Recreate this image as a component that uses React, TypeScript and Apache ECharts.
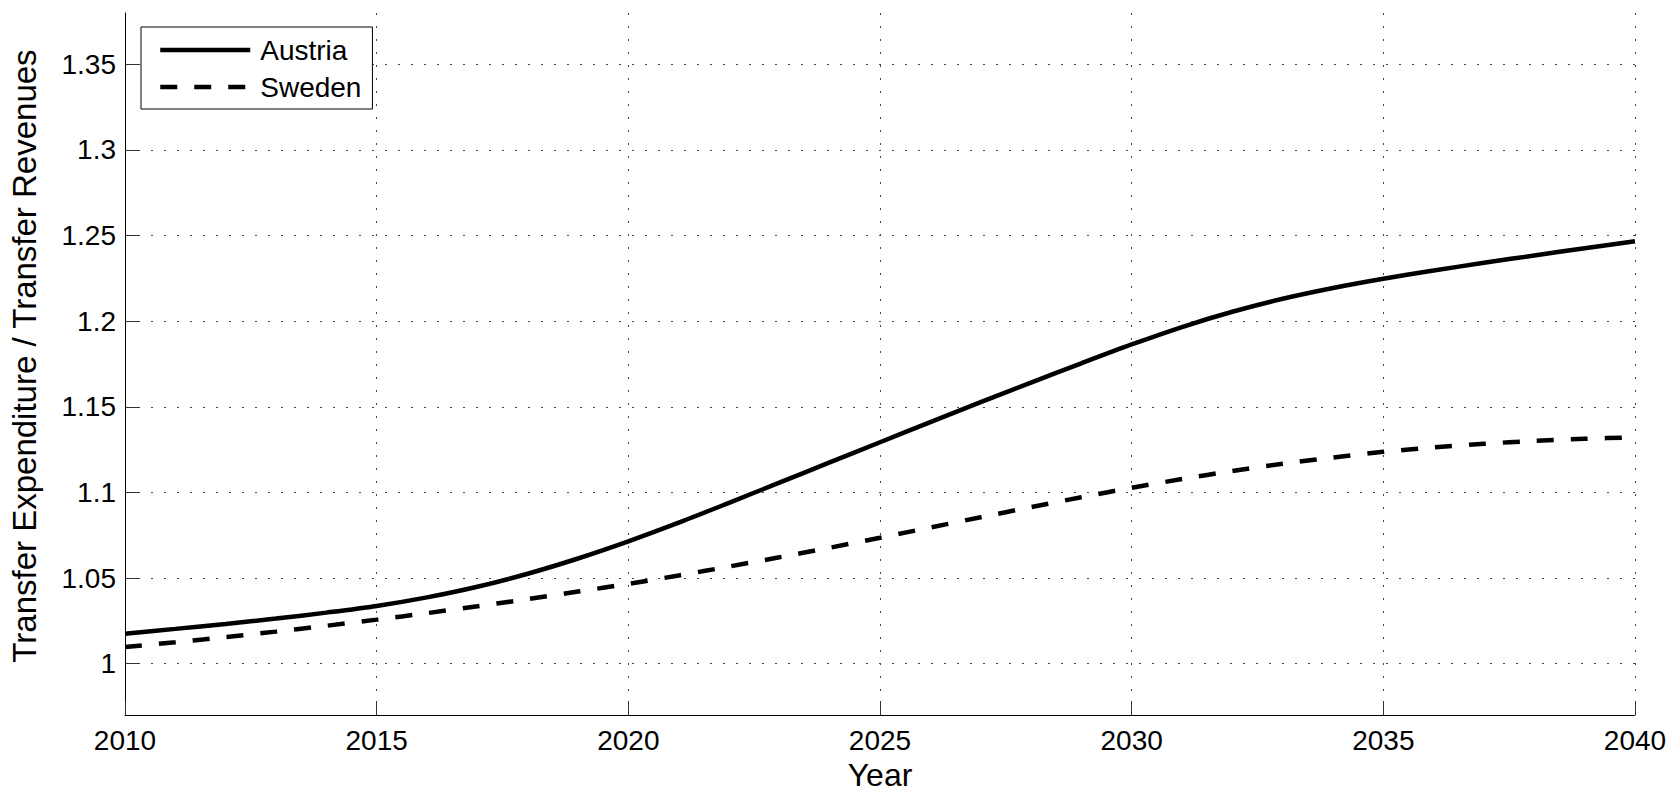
import React, { useEffect, useRef } from "react";
import * as echarts from "echarts";

const years = [
  2010, 2011, 2012, 2013, 2014, 2015, 2016, 2017, 2018, 2019, 2020,
  2021, 2022, 2023, 2024, 2025, 2026, 2027, 2028, 2029, 2030,
  2031, 2032, 2033, 2034, 2035, 2036, 2037, 2038, 2039, 2040,
];

const austria = [
  1.0175, 1.0203, 1.0232, 1.0263, 1.0298, 1.0337, 1.0387, 1.0449, 1.0525, 1.0614, 1.0714,
  1.0823, 1.0939, 1.1057, 1.1175, 1.1293, 1.1411, 1.1527, 1.1641, 1.1754, 1.1864,
  1.1966, 1.2055, 1.2131, 1.2194, 1.2248, 1.2296, 1.2341, 1.2384, 1.2426, 1.2467,
];

const sweden = [
  1.0097, 1.0125, 1.0155, 1.0187, 1.0221, 1.0257, 1.0295, 1.0335, 1.0377, 1.0421, 1.0466,
  1.0515, 1.0567, 1.0621, 1.0677, 1.0735, 1.0795, 1.0855, 1.0914, 1.0972, 1.1027,
  1.1078, 1.1125, 1.1167, 1.1204, 1.1237, 1.1263, 1.1284, 1.1301, 1.1313, 1.1322,
];

const yTicks = [1, 1.05, 1.1, 1.15, 1.2, 1.25, 1.3, 1.35];
const seriesNames = ["Austria", "Sweden"];

const FONT = "'Liberation Sans', Arial, sans-serif";

export default function App() {
  const ref = useRef<HTMLDivElement>(null);

  useEffect(() => {
    document.body.style.margin = "0";
    const chart = echarts.init(ref.current!, null, { renderer: "svg" });
    const toPairs = (vals: number[]) => years.map((y, i) => [y, vals[i]]);

    chart.setOption({
      animation: false,
      backgroundColor: "#fff",
      textStyle: { fontFamily: FONT, color: "#000" },
      grid: { left: 125, right: 37, top: 13, bottom: 78, containLabel: false, outerBoundsMode: "none" },
      legend: {
        orient: "vertical",
        left: 141,
        top: 27,
        padding: [9, 11, 8, 17],
        borderColor: "#000",
        borderWidth: 1,
        backgroundColor: "#fff",
        itemWidth: 90,
        itemHeight: 14,
        itemGap: 9,
        data: seriesNames,
        lineStyle: { width: 4.5 },
        itemStyle: { opacity: 0 },
        textStyle: { fontSize: 28, fontFamily: FONT, color: "#000", padding: [0, 0, 0, 5] },
      },
      xAxis: {
        type: "value",
        min: 2010,
        max: 2040,
        interval: 5,
        name: "Year",
        nameLocation: "middle",
        nameGap: 43,
        nameTextStyle: { fontSize: 32, lineHeight: 33, fontFamily: FONT, color: "#000" },
        axisLine: { show: true, onZero: false, lineStyle: { color: "#000", width: 1 } },
        axisTick: { show: true, inside: true, length: 14, lineStyle: { color: "#333" } },
        axisLabel: {
          fontSize: 28,
          fontFamily: FONT,
          color: "#000",
          margin: 11,
          formatter: (v: number) => String(v),
        },
        splitLine: { show: true, lineStyle: { color: "#444", type: [2, 11], width: 1 } },
      },
      yAxis: {
        type: "value",
        min: 0.97,
        max: 1.38,
        name: "Transfer Expenditure / Transfer Revenues",
        nameLocation: "middle",
        nameGap: 84,
        nameRotate: 90,
        nameTextStyle: { fontSize: 33, fontFamily: FONT, color: "#000", padding: [0, 0, 0, 16] },
        axisLine: { show: true, onZero: false, lineStyle: { color: "#000", width: 1 } },
        axisTick: { show: true, inside: true, length: 14, customValues: yTicks, lineStyle: { color: "#333" } },
        axisLabel: {
          fontSize: 28,
          fontFamily: FONT,
          color: "#000",
          margin: 9,
          customValues: yTicks,
          formatter: (v: number) => String(parseFloat(v.toFixed(2))),
        },
        splitLine: { show: true, lineStyle: { color: "#444", type: [2, 11], width: 1 } },
      },
      series: [
        {
          name: seriesNames[0],
          type: "line",
          data: toPairs(austria),
          showSymbol: false,
          symbol: "none",
          smooth: 0.3,
          lineStyle: { color: "#000", width: 4.5, type: "solid" },
          itemStyle: { color: "#000" },
        },
        {
          name: seriesNames[1],
          type: "line",
          data: toPairs(sweden),
          showSymbol: false,
          symbol: "none",
          smooth: 0.3,
          lineStyle: { color: "#000", width: 4.5, type: [17, 17] },
          itemStyle: { color: "#000" },
        },
      ],
    });
    return () => chart.dispose();
  }, []);

  return <div ref={ref} style={{ width: 1672, height: 793 }} />;
}
